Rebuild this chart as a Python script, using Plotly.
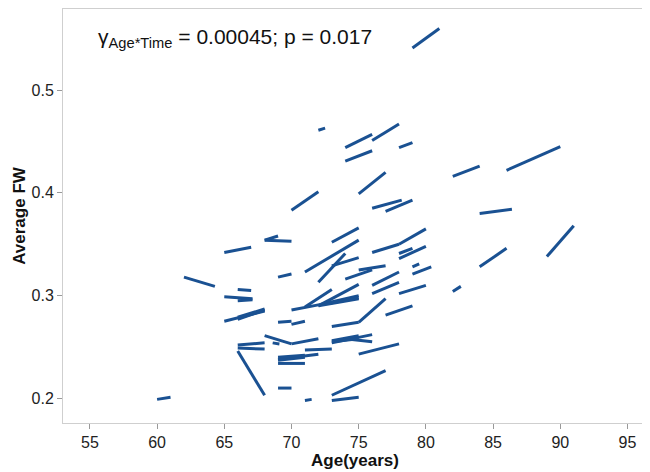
import plotly.graph_objects as go

# Segment endpoints: (age start, FW start) -> (age end, FW end)
age_start = [79, 72, 74, 76, 78, 74, 82, 86, 75, 70, 76, 77, 84, 89, 84, 82, 65, 68, 68, 62,
             69, 66, 65, 66, 65, 66, 66, 69, 70, 68, 70, 68.6, 66, 66, 66, 69, 69, 69, 69, 71,
             69, 60, 71, 73, 73, 75, 73, 73, 74, 73, 73, 75, 77, 78, 76, 76, 79, 79, 78, 78,
             76, 78, 73, 71, 72, 73, 74, 75, 70, 71, 72, 72, 72, 73]
fw_start = [0.541, 0.461, 0.444, 0.451, 0.444, 0.431, 0.416, 0.422, 0.399, 0.383, 0.385, 0.382, 0.380, 0.338, 0.328, 0.304, 0.342, 0.354, 0.354, 0.318,
            0.318, 0.306, 0.299, 0.295, 0.275, 0.277, 0.279, 0.274, 0.272, 0.261, 0.253, 0.254, 0.252, 0.249, 0.246, 0.234, 0.237, 0.238, 0.240, 0.247,
            0.210, 0.199, 0.198, 0.198, 0.203, 0.243, 0.254, 0.256, 0.258, 0.255, 0.270, 0.274, 0.281, 0.302, 0.310, 0.302, 0.321, 0.328, 0.336, 0.341,
            0.342, 0.350, 0.352, 0.323, 0.313, 0.329, 0.316, 0.325, 0.286, 0.289, 0.290, 0.291, 0.290, 0.293]
age_end = [81, 72.5, 76, 78, 79, 76, 84, 90, 77, 72, 78.2, 79, 86.4, 91, 86, 82.6, 67, 70, 69, 64.3,
           70, 67, 67.1, 67.1, 68, 68, 68, 70, 71, 70, 72, 69.1, 68, 68, 68, 71, 71, 72, 71, 73,
           70, 61, 71.5, 75, 77, 78, 76, 75, 76, 75, 75, 77, 79, 80, 78, 78, 80.4, 79.5, 80, 79,
           78, 80, 75, 75, 74, 75, 76, 77, 72, 73, 75, 75, 75, 75]
fw_end = [0.560, 0.463, 0.457, 0.467, 0.449, 0.441, 0.426, 0.445, 0.420, 0.401, 0.393, 0.393, 0.384, 0.368, 0.346, 0.309, 0.347, 0.353, 0.358, 0.309,
          0.321, 0.305, 0.297, 0.296, 0.285, 0.286, 0.287, 0.275, 0.275, 0.253, 0.258, 0.253, 0.254, 0.248, 0.203, 0.234, 0.240, 0.243, 0.242, 0.248,
          0.210, 0.201, 0.199, 0.201, 0.227, 0.253, 0.262, 0.261, 0.255, 0.258, 0.274, 0.297, 0.290, 0.310, 0.323, 0.313, 0.328, 0.331, 0.348, 0.346,
          0.350, 0.365, 0.366, 0.354, 0.341, 0.337, 0.325, 0.329, 0.291, 0.306, 0.311, 0.300, 0.297, 0.298]

x_ticks = [55, 60, 65, 70, 75, 80, 85, 90, 95]
y_ticks = [0.2, 0.3, 0.4, 0.5]
annotation_text = "γ<sub>Age*Time</sub> = 0.00045; p = 0.017"

xs, ys = [], []
for a0, f0, a1, f1 in zip(age_start, fw_start, age_end, fw_end):
    xs += [a0, a1, None]
    ys += [f0, f1, None]

FONT = "Liberation Sans, Arial, Helvetica, sans-serif"

fig = go.Figure()
fig.add_trace(go.Scatter(x=xs, y=ys, mode="lines",
                         line=dict(color="#1a5192", width=3),
                         connectgaps=False, hoverinfo="skip", showlegend=False))

fig.add_annotation(text=annotation_text, xref="paper", yref="paper",
                   x=0.056, y=0.93, xanchor="left", yanchor="middle",
                   showarrow=False, font=dict(family=FONT, size=21, color="#111"))

axis_common = dict(showline=True, mirror=True, linecolor="#cfcfcf", linewidth=1,
                   showgrid=False, zeroline=False, ticks="outside", ticklen=5,
                   tickcolor="#999", tickwidth=1, automargin=False,
                   tickfont=dict(family=FONT, size=16, color="#222"))

# page body has an 8px default margin, so the figure is sized to the visible area
fig.update_layout(
    width=642, height=464,
    margin=dict(l=55, r=3, t=1, b=49, autoexpand=False),
    paper_bgcolor="white", plot_bgcolor="white",
    xaxis=dict(range=[53.0, 96.45], tickvals=x_ticks,
               ticktext=[str(v) for v in x_ticks],
               title=dict(text="<b>Age(years)</b>", standoff=3,
                          font=dict(family=FONT, size=17, color="#111")),
               **axis_common),
    yaxis=dict(range=[0.176, 0.579], tickvals=y_ticks,
               ticktext=[f"{v:.1f}" for v in y_ticks],
               title=dict(text="<b>Average FW</b>", standoff=1,
                          font=dict(family=FONT, size=17, color="#111")),
               **axis_common),
)

fig.write_html("out.html")
